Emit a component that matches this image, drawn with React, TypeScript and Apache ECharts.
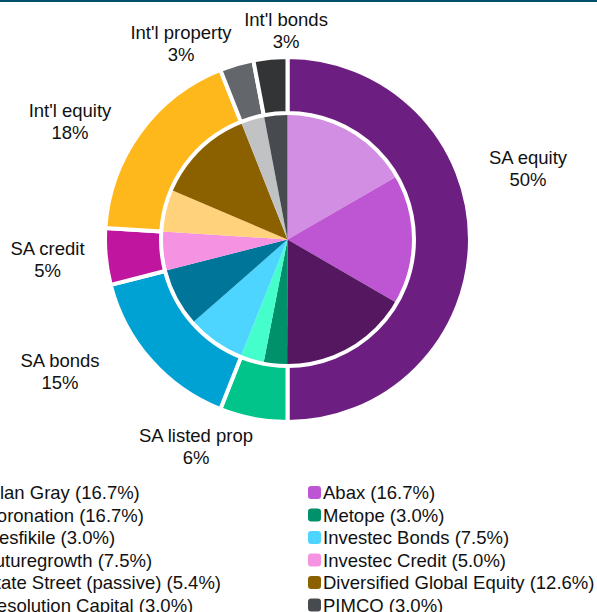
import React, { useEffect, useRef } from "react";
import * as echarts from "echarts";

const ASSET_CLASSES = ["SA equity", "SA listed prop", "SA bonds", "SA credit", "Int'l equity", "Int'l property", "Int'l bonds"];
const ASSET_VALUES = [50, 6, 15, 5, 18, 3, 3];
const ASSET_COLORS = ["#6D1F81", "#00C48A", "#00A1D3", "#C0159F", "#FFB81C", "#63666A", "#333436"];

const MANAGERS = [
  "Allan Gray", "Abax", "Coronation", "Metope", "Mesfikile", "Investec Bonds",
  "Futuregrowth", "Investec Credit", "State Street (passive)", "Diversified Global Equity",
  "Resolution Capital", "PIMCO",
];
const MANAGER_VALUES = [16.7, 16.7, 16.7, 3.0, 3.0, 7.5, 7.5, 5.0, 5.4, 12.6, 3.0, 3.0];
const MANAGER_COLORS = [
  "#D18EE2", "#BE55D3", "#541760", "#00906A", "#44FFCC", "#4DD5FF",
  "#00759A", "#F592E2", "#FFD27B", "#8B6100", "#C1C2C4", "#474A4F",
];

// label anchor centres (px) for the outer ring labels
const LABEL_ANCHORS: [number, number][] = [
  [528, 168], [196, 446], [60, 371], [47.5, 259], [70, 121], [181, 43], [286, 30],
];

const FONT = "'Liberation Sans', Arial, sans-serif";
const FS = 18.5;

export default function App() {
  const ref = useRef<HTMLDivElement>(null);
  useEffect(() => {
    if (!ref.current) return;
    const chart = echarts.init(ref.current, undefined, { renderer: "svg" });
    const valueOf: Record<string, number> = {};
    MANAGERS.forEach((m, i) => (valueOf[m] = MANAGER_VALUES[i]));
    const leftNames = MANAGERS.filter((_, i) => i % 2 === 0);
    const rightNames = MANAGERS.filter((_, i) => i % 2 === 1);
    const legendCommon = {
      orient: "vertical" as const,
      top: 483,
      height: 200,
      padding: 0,
      itemWidth: 13,
      itemHeight: 13,
      itemGap: 3.5,
      icon: "roundRect",
      selectedMode: false,
      textStyle: { fontSize: FS, fontFamily: FONT, color: "#111", padding: [0, 0, 0, -3] },
      formatter: (name: string) => `${name} (${valueOf[name].toFixed(1)}%)`,
    };
    chart.setOption({
      animation: false,
      graphic: [
        { type: "rect", shape: { x: 0, y: 0, width: 597, height: 2 }, style: { fill: "#00506B" }, silent: true },
      ],
      legend: [
        { ...legendCommon, left: -31.5, width: 330, data: leftNames },
        { ...legendCommon, left: 308, width: 330, data: rightNames },
      ],
      series: [
        {
          type: "pie",
          name: "Managers",
          center: [287.5, 239.5],
          radius: [0, 125.5],
          startAngle: 90,
          clockwise: true,
          silent: true,
          label: { show: false },
          labelLine: { show: false },
          emphasis: { disabled: true },
          itemStyle: { borderWidth: 0 },
          data: MANAGERS.map((name, i) => ({
            name,
            value: MANAGER_VALUES[i],
            itemStyle: { color: MANAGER_COLORS[i] },
          })),
        },
        {
          type: "pie",
          name: "Asset classes",
          center: [287.5, 239.5],
          radius: [126.5, 182.5],
          startAngle: 90,
          clockwise: true,
          silent: true,
          avoidLabelOverlap: false,
          emphasis: { disabled: true },
          itemStyle: { borderColor: "#fff", borderWidth: 4 },
          label: {
            show: true,
            position: "outside",
            formatter: (p: any) => `${p.name}\n${p.value}%`,
            fontSize: FS,
            lineHeight: 22,
            fontFamily: FONT,
            color: "#111",
            align: "center",
          },
          labelLine: { show: false },
          labelLayout: (p: any) => {
            const a = LABEL_ANCHORS[p.dataIndex];
            return { x: a[0], y: a[1], align: "center", verticalAlign: "middle" };
          },
          data: ASSET_CLASSES.map((name, i) => ({
            name,
            value: ASSET_VALUES[i],
            itemStyle: { color: ASSET_COLORS[i] },
          })),
        },
      ],
    });
    return () => chart.dispose();
  }, []);
  return (
    <div
      ref={ref}
      style={{ position: "absolute", left: 0, top: 0, width: 597, height: 612, background: "#fff" }}
    />
  );
}
